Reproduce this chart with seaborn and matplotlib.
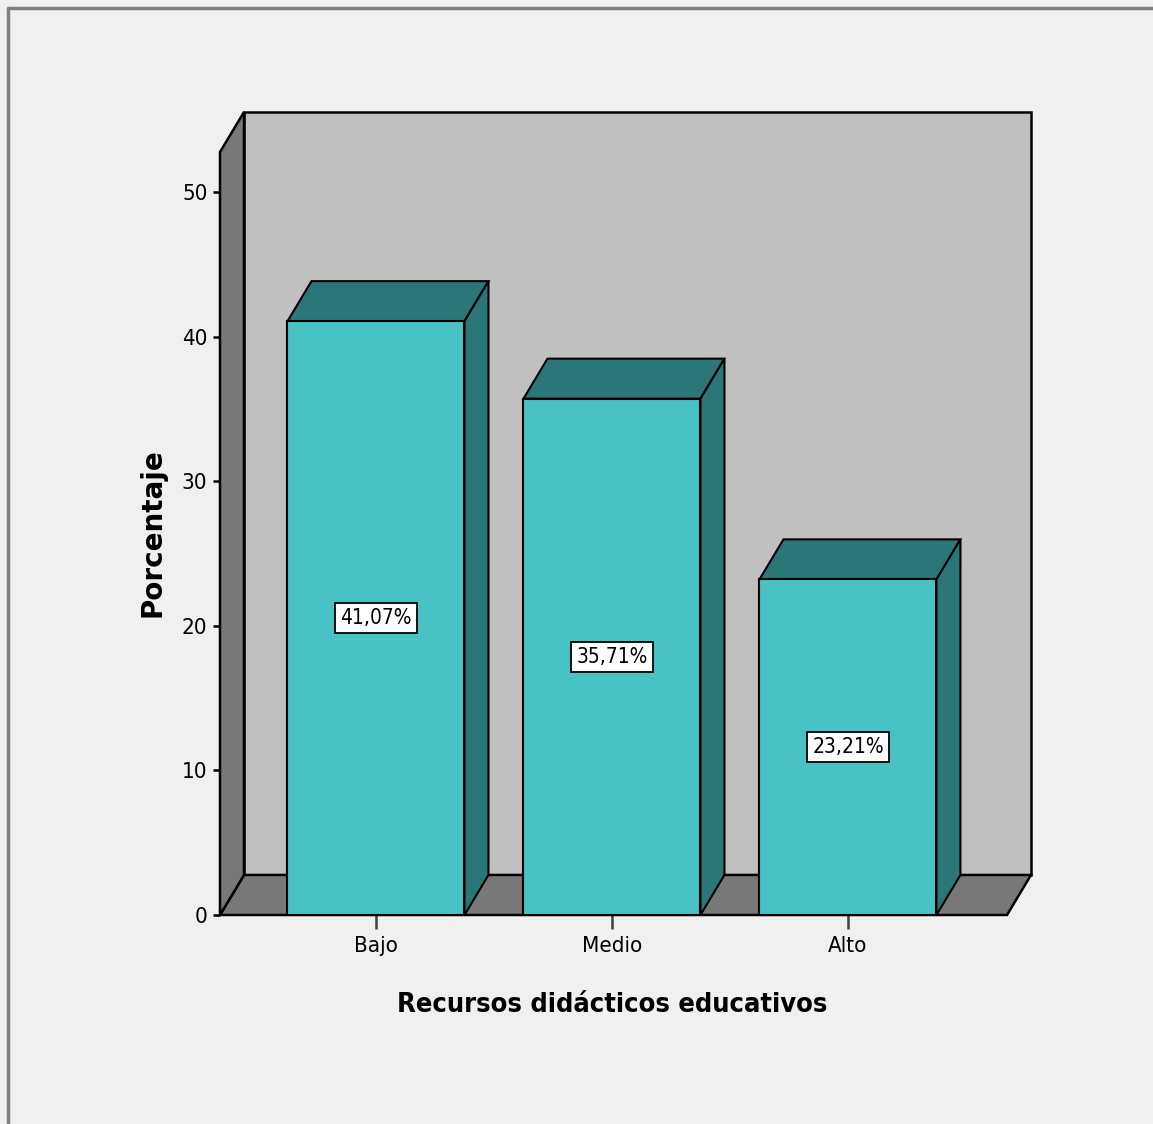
import pandas as pd
import seaborn as sns
import matplotlib.pyplot as plt
from matplotlib.patches import Polygon
from matplotlib.lines import Line2D

# datos
categorias = ['Bajo', 'Medio', 'Alto']
porcentajes = [41.07, 35.71, 23.21]
etiquetas = ['41,07%', '35,71%', '23,21%']
marcas_y = [0, 10, 20, 30, 40, 50]

# colores estilo SPSS
C_FRENTE = '#48c2c5'
C_OSCURO = '#2b7777'
C_PARED = '#c0c0c0'
C_PISO = '#787878'
C_FONDO = '#f0f0f0'

sns.set_style('white')
plt.rcParams['font.family'] = ['DejaVu Sans']
plt.rcParams['font.stretch'] = 'condensed'
plt.rcParams['text.color'] = 'black'
plt.rcParams['axes.labelcolor'] = 'black'
plt.rcParams['xtick.color'] = 'black'
plt.rcParams['ytick.color'] = 'black'

W, H = 1153, 1124
fig = plt.figure(figsize=(W / 100, H / 100), dpi=100, facecolor=C_FONDO)
ax = fig.add_axes([220 / W, (H - 915) / H, 811 / W, 803 / H])
ax.set_facecolor('none')

df = pd.DataFrame({'categoria': categorias, 'porcentaje': porcentajes})
sns.barplot(data=df, x='categoria', y='porcentaje', color=C_FRENTE, saturation=1,
            width=0.75, edgecolor='black', linewidth=1.5, ax=ax, zorder=5)
barras = list(ax.patches)

# profundidad del efecto 3D (en unidades de datos)
dx, dy = 0.1017, 2.77
x0, x1 = -0.661, 2.674
ymax = 52.77

pared = Polygon([(x0 + dx, dy), (x1 + dx, dy), (x1 + dx, ymax + dy), (x0 + dx, ymax + dy)],
                closed=True, fc=C_PARED, ec='black', lw=1.8, zorder=1)
piso = Polygon([(x0, 0), (x1, 0), (x1 + dx, dy), (x0 + dx, dy)],
               closed=True, fc=C_PISO, ec='black', lw=1.8, zorder=2)
lateral = Polygon([(x0, 0), (x0, ymax), (x0 + dx, ymax + dy), (x0 + dx, dy)],
                  closed=True, fc=C_PISO, ec='black', lw=1.8, zorder=2)
for p in (pared, piso, lateral):
    p.set_clip_on(False)
    ax.add_patch(p)

for p, txt in zip(barras, etiquetas):
    xl, w, h = p.get_x(), p.get_width(), p.get_height()
    tapa = [(xl, h), (xl + w, h), (xl + w + dx, h + dy), (xl + dx, h + dy)]
    lado = [(xl + w, 0), (xl + w + dx, dy), (xl + w + dx, h + dy), (xl + w, h)]
    ax.add_patch(Polygon(tapa, closed=True, fc=C_OSCURO, ec='black', lw=1.5, zorder=4))
    ax.add_patch(Polygon(lado, closed=True, fc=C_OSCURO, ec='black', lw=1.5, zorder=4))
    ax.text(xl + w / 2, h / 2, txt, ha='center', va='center', fontsize=15, zorder=6,
            bbox=dict(boxstyle='square,pad=0.25', fc='white', ec='black', lw=1.3))

ax.set_xlim(x0, x1 + dx)
ax.set_ylim(0, ymax + dy)
for s in ax.spines.values():
    s.set_visible(False)

ax.set_yticks(marcas_y)
ax.set_yticklabels([str(v) for v in marcas_y])
ax.set_xticks(range(len(categorias)))
ax.set_xticklabels(categorias)
ax.tick_params(axis='y', left=True, length=5, width=1.8, color='black', pad=4, labelsize=16)
ax.tick_params(axis='x', bottom=True, length=10, width=1.8, color='#404040', pad=5, labelsize=16)

ax.set_xlabel('Recursos didácticos educativos', fontsize=19.5, fontweight='bold')
ax.xaxis.set_label_coords((612 - 220) / 811, -(1005 - 915) / 803)
ax.xaxis.label.set_va('center')
ax.set_ylabel('Porcentaje', fontsize=20, fontweight='bold', fontstretch='normal')
ax.yaxis.set_label_coords((152 - 220) / 811, (915 - 533) / 803)
ax.yaxis.label.set_va('center')
ax.yaxis.label.set_ha('center')

# marco de la ventana
fig.add_artist(Line2D([8 / W, 1], [1 - 8 / H, 1 - 8 / H], transform=fig.transFigure,
                      color='#808080', lw=2.5))
fig.add_artist(Line2D([8 / W, 8 / W], [0, 1 - 8 / H], transform=fig.transFigure,
                      color='#808080', lw=2.5))

fig.savefig('out.png', dpi=100, facecolor=C_FONDO)
